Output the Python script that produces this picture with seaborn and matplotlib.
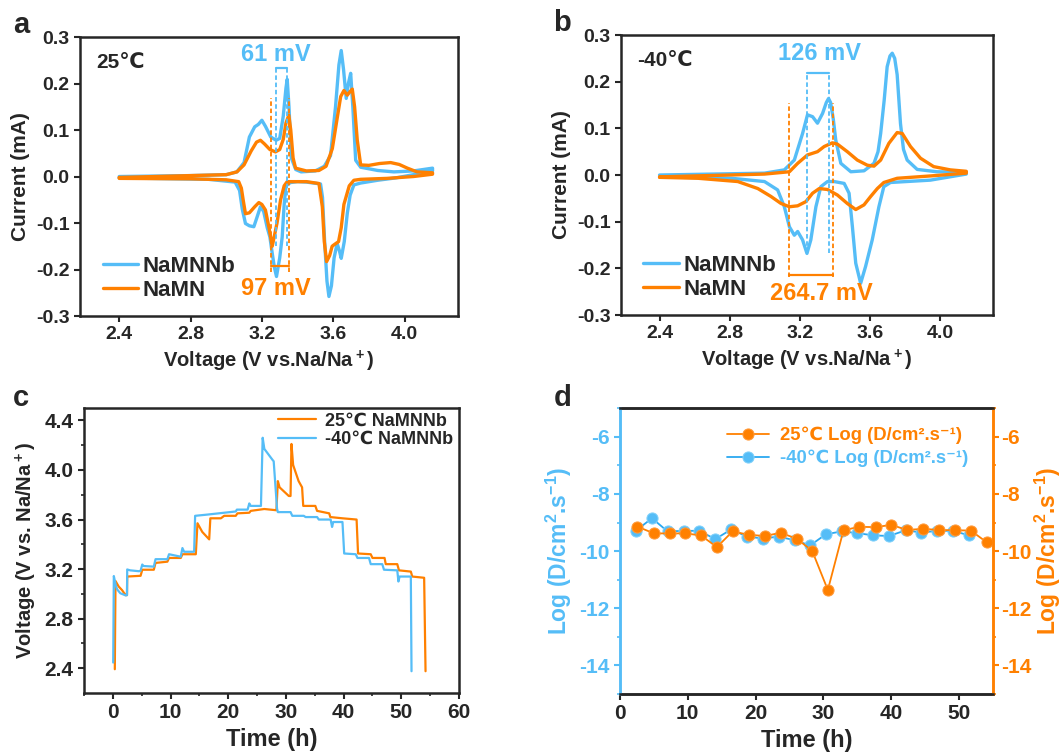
import numpy as np
import pandas as pd
import seaborn as sns
import matplotlib.pyplot as plt

BLUE = '#55BDF7'
ORANGE = '#FF8000'

# ---- panel a: CV at 25 C (upper = anodic sweep, lower = cathodic sweep back)
a_nb_up_v = [2.40, 2.80, 3.00, 3.06, 3.10, 3.13, 3.16, 3.18, 3.20, 3.22, 3.25, 3.28, 3.30, 3.32, 3.335, 3.342,
             3.352, 3.365, 3.39, 3.42, 3.50, 3.55, 3.585, 3.613, 3.632, 3.645, 3.658, 3.673, 3.685, 3.698, 3.71,
             3.726, 3.754, 3.85, 3.94, 4.05, 4.157]
a_nb_up_i = [0.000, 0.002, 0.004, 0.010, 0.030, 0.085, 0.107, 0.112, 0.121, 0.108, 0.085, 0.078, 0.082, 0.130,
             0.190, 0.209, 0.150, 0.040, 0.015, 0.010, 0.012, 0.022, 0.045, 0.150, 0.240, 0.271, 0.230, 0.168,
             0.200, 0.222, 0.150, 0.035, 0.020, 0.013, 0.010, 0.012, 0.018]
a_nb_dn_v = [4.157, 4.05, 3.95, 3.85, 3.754, 3.716, 3.695, 3.679, 3.662, 3.645, 3.635, 3.622, 3.605, 3.590, 3.576,
             3.565, 3.552, 3.540, 3.529, 3.45, 3.40, 3.36, 3.335, 3.325, 3.314, 3.30, 3.282, 3.27, 3.258, 3.245,
             3.23, 3.21, 3.192, 3.175, 3.155, 3.13, 3.108, 3.09, 3.075, 3.05, 2.90, 2.40]
a_nb_dn_i = [0.012, 0.004, -0.003, -0.008, -0.014, -0.018, -0.040, -0.079, -0.140, -0.176, -0.160, -0.144, -0.175,
             -0.235, -0.258, -0.225, -0.140, -0.045, -0.016, -0.012, -0.011, -0.013, -0.020, -0.060, -0.130,
             -0.175, -0.215, -0.195, -0.165, -0.130, -0.110, -0.075, -0.065, -0.085, -0.108, -0.106, -0.101,
             -0.070, -0.030, -0.012, -0.006, -0.003]
a_mn_up_v = [2.40, 2.80, 3.00, 3.06, 3.10, 3.14, 3.17, 3.192, 3.215, 3.245, 3.276, 3.30, 3.32, 3.335, 3.351, 3.362,
             3.375, 3.389, 3.45, 3.52, 3.56, 3.595, 3.62, 3.642, 3.66, 3.679, 3.695, 3.707, 3.72, 3.735, 3.754,
             3.80, 3.86, 3.922, 3.97, 4.016, 4.07, 4.157]
a_mn_up_i = [-0.002, 0.002, 0.004, 0.010, 0.025, 0.055, 0.074, 0.078, 0.070, 0.058, 0.053, 0.058, 0.080, 0.115,
             0.132, 0.100, 0.040, 0.018, 0.012, 0.013, 0.022, 0.060, 0.120, 0.172, 0.185, 0.175, 0.183, 0.188,
             0.150, 0.078, 0.025, 0.024, 0.028, 0.030, 0.026, 0.018, 0.010, 0.008]
a_mn_dn_v = [4.157, 4.05, 3.90, 3.754, 3.716, 3.69, 3.66, 3.645, 3.63, 3.604, 3.594, 3.580, 3.563, 3.550, 3.539,
             3.52, 3.45, 3.342, 3.325, 3.305, 3.285, 3.258, 3.24, 3.22, 3.20, 3.183, 3.16, 3.13, 3.108, 3.095,
             3.085, 3.07, 3.00, 2.80, 2.40]
a_mn_dn_i = [0.005, 0.000, -0.004, -0.006, -0.008, -0.020, -0.060, -0.110, -0.140, -0.147, -0.150, -0.170, -0.183,
             -0.140, -0.065, -0.015, -0.011, -0.011, -0.020, -0.050, -0.100, -0.150, -0.110, -0.072, -0.060,
             -0.056, -0.065, -0.078, -0.080, -0.050, -0.025, -0.011, -0.007, -0.005, -0.004]

# ---- panel b: CV at -40 C
b_nb_up_v = [2.40, 2.998, 3.111, 3.168, 3.215, 3.243, 3.272, 3.30, 3.329, 3.350, 3.363, 3.375, 3.390, 3.404,
             3.433, 3.49, 3.565, 3.622, 3.645, 3.66, 3.68, 3.697, 3.713, 3.726, 3.740, 3.754, 3.773, 3.79, 3.811,
             3.868, 3.98, 4.148]
b_nb_up_i = [0.000, 0.004, 0.011, 0.032, 0.089, 0.129, 0.125, 0.111, 0.132, 0.155, 0.164, 0.155, 0.120, 0.075,
             0.025, 0.007, 0.009, 0.025, 0.050, 0.089, 0.160, 0.232, 0.255, 0.261, 0.250, 0.215, 0.110, 0.055,
             0.032, 0.012, 0.007, 0.006]
b_nb_dn_v = [4.148, 3.943, 3.716, 3.678, 3.65, 3.612, 3.574, 3.546, 3.518, 3.499, 3.48, 3.452, 3.395, 3.357, 3.319,
             3.291, 3.262, 3.24, 3.215, 3.187, 3.168, 3.14, 3.111, 3.073, 2.998, 2.81, 2.40]
b_nb_dn_i = [0.002, -0.011, -0.016, -0.025, -0.068, -0.139, -0.196, -0.232, -0.189, -0.111, -0.039, -0.018, -0.014,
             -0.014, -0.025, -0.068, -0.139, -0.168, -0.139, -0.121, -0.129, -0.111, -0.068, -0.032, -0.014,
             -0.007, -0.004]
b_mn_up_v = [2.40, 2.998, 3.14, 3.187, 3.243, 3.30, 3.338, 3.385, 3.414, 3.47, 3.527, 3.584, 3.622, 3.66, 3.707,
             3.754, 3.783, 3.83, 3.887, 3.962, 4.057, 4.148]
b_mn_up_i = [-0.004, 0.002, 0.007, 0.025, 0.043, 0.050, 0.061, 0.069, 0.066, 0.050, 0.032, 0.021, 0.019, 0.032,
             0.068, 0.091, 0.089, 0.061, 0.036, 0.018, 0.011, 0.008]
b_mn_dn_v = [4.148, 3.943, 3.754, 3.678, 3.641, 3.603, 3.565, 3.518, 3.47, 3.414, 3.357, 3.31, 3.272, 3.234, 3.187,
             3.14, 3.092, 3.035, 2.96, 2.846, 2.619, 2.40]
b_mn_dn_i = [0.004, -0.002, -0.007, -0.016, -0.029, -0.046, -0.064, -0.074, -0.061, -0.043, -0.031, -0.029, -0.039,
             -0.057, -0.066, -0.068, -0.061, -0.046, -0.029, -0.014, -0.007, -0.005]

# ---- panel c: GITT voltage profiles
c_rt_t = [0.34, 0.46, 1.0, 1.6, 2.2, 2.45, 2.49, 4.81, 5.1, 7.1, 7.4, 9.45, 9.74, 11.77, 12.06, 14.38, 14.67, 15.5,
          16.7, 16.9, 18.73, 19.3, 21.3, 21.6, 23.65, 23.9, 26.26, 28.35, 28.6, 28.9, 30.5, 30.8, 30.96, 31.25,
          32.2, 32.8, 33.0, 35.1, 35.4, 37.5, 37.7, 39.8, 42.25, 42.5, 44.7, 45.0, 47.1, 47.3, 49.3, 49.6, 51.65,
          51.9, 53.96, 54.2]
c_rt_v = [2.392, 3.104, 3.06, 3.03, 2.99, 2.99, 3.14, 3.146, 3.195, 3.195, 3.25, 3.26, 3.29, 3.29, 3.32, 3.32, 3.57,
          3.50, 3.44, 3.61, 3.61, 3.63, 3.63, 3.65, 3.655, 3.67, 3.685, 3.675, 3.91, 3.86, 3.79, 3.79, 4.21, 4.04,
          3.91, 3.86, 3.71, 3.71, 3.67, 3.65, 3.62, 3.61, 3.60, 3.326, 3.32, 3.29, 3.29, 3.24, 3.24, 3.19, 3.18,
          3.14, 3.13, 2.376]
c_lt_t = [0.06, 0.17, 0.5, 0.75, 1.3, 2.2, 2.45, 2.49, 3.0, 4.52, 4.8, 5.1, 5.3, 7.1, 7.4, 9.45, 9.74, 11.77, 12.06,
          12.35, 14.09, 14.26, 16.4, 18.73, 21.3, 21.5, 23.36, 23.65, 23.9, 25.67, 25.97, 26.26, 27.7, 27.88,
          28.46, 28.6, 30.8, 31.1, 33.1, 33.4, 35.4, 35.7, 37.75, 38.0, 38.2, 39.8, 40.1, 42.1, 42.4, 44.4, 44.7,
          46.7, 47.0, 49.3, 49.5, 49.7, 51.65, 51.77]
c_lt_v = [2.446, 3.144, 3.07, 3.036, 3.005, 2.988, 2.990, 3.197, 3.19, 3.183, 3.186, 3.237, 3.225, 3.22, 3.28,
          3.28, 3.32, 3.30, 3.37, 3.34, 3.34, 3.63, 3.64, 3.652, 3.665, 3.68, 3.68, 3.73, 3.71, 3.71, 4.26, 4.17,
          4.08, 4.07, 3.687, 3.66, 3.66, 3.63, 3.63, 3.62, 3.62, 3.60, 3.60, 3.54, 3.58, 3.58, 3.326, 3.32, 3.29,
          3.29, 3.24, 3.24, 3.195, 3.19, 3.10, 3.14, 3.14, 2.376]

# ---- panel d: log diffusion coefficient
d_rt_t = [2.55, 5.0, 7.37, 9.63, 11.94, 14.29, 16.6, 19.0, 21.36, 23.67, 26.03, 28.34, 30.65, 32.96, 35.27, 37.72,
          40.03, 42.29, 44.7, 47.0, 49.36, 51.72, 54.08]
d_rt_logd = [-9.14, -9.38, -9.38, -9.38, -9.45, -9.86, -9.31, -9.43, -9.47, -9.36, -9.56, -9.99, -11.36, -9.27,
             -9.15, -9.16, -9.08, -9.26, -9.22, -9.26, -9.27, -9.28, -9.69]
d_lt_t = [2.36, 4.72, 7.02, 9.43, 11.69, 14.05, 16.4, 18.71, 21.12, 23.38, 25.74, 28.05, 30.35, 32.71, 35.02, 37.38,
          39.69, 42.14, 44.45, 46.76, 49.12, 51.47]
d_lt_logd = [-9.28, -8.85, -9.31, -9.29, -9.29, -9.58, -9.24, -9.49, -9.56, -9.49, -9.62, -9.80, -9.41, -9.31,
             -9.37, -9.45, -9.47, -9.27, -9.35, -9.29, -9.29, -9.45]

sns.set_style('ticks')
plt.rcParams['font.family'] = ['Liberation Sans', 'DejaVu Sans']
plt.rcParams['font.weight'] = 'bold'
plt.rcParams['axes.labelweight'] = 'bold'
plt.rcParams['axes.unicode_minus'] = False
plt.rcParams['mathtext.fontset'] = 'custom'
plt.rcParams['mathtext.rm'] = 'Liberation Sans:bold'
plt.rcParams['mathtext.bf'] = 'Liberation Sans:bold'
plt.rcParams['mathtext.default'] = 'bf'
plt.rcParams['axes.linewidth'] = 1.8
plt.rcParams['xtick.major.width'] = 1.5
plt.rcParams['ytick.major.width'] = 1.5
plt.rcParams['xtick.major.size'] = 4
plt.rcParams['ytick.major.size'] = 4
plt.rcParams['xtick.minor.size'] = 2.5
plt.rcParams['ytick.minor.size'] = 2.5
plt.rcParams['xtick.minor.width'] = 1.2
plt.rcParams['ytick.minor.width'] = 1.2

fig = plt.figure(figsize=(10.62, 7.56), dpi=100)
ax_a = fig.add_axes([0.0753, 0.582, 0.356, 0.369])
ax_b = fig.add_axes([0.5847, 0.5833, 0.3503, 0.3704])
ax_c = fig.add_axes([0.0791, 0.0833, 0.3531, 0.377])
ax_d = fig.add_axes([0.5838, 0.082, 0.3512, 0.378])


def cv_panel(ax, nb_v, nb_i, mn_v, mn_i, temp):
    sns.lineplot(x=nb_v, y=nb_i, sort=False, estimator=None, color=BLUE, lw=2.4, ax=ax, label='NaMNNb')
    sns.lineplot(x=mn_v, y=mn_i, sort=False, estimator=None, color=ORANGE, lw=2.4, ax=ax, label='NaMN')
    ax.set_xlim(2.18, 4.30)
    ax.set_ylim(-0.3, 0.3)
    ax.set_xticks([2.4, 2.8, 3.2, 3.6, 4.0])
    ax.set_yticks([-0.3, -0.2, -0.1, 0.0, 0.1, 0.2, 0.3])
    ax.set_yticklabels(['-0.3', '-0.2', '-0.1', '0.0', '0.1', '0.2', '0.3'])
    ax.tick_params(labelsize=14)
    ax.set_xlabel('Voltage (V vs.Na/Na$^+$)', fontsize=14.5)
    ax.set_ylabel('Current (mA)', fontsize=15)
    ax.text(0.044, 0.91, temp, transform=ax.transAxes, fontsize=15, fontweight='bold', va='center')
    ax.legend(loc='lower left', bbox_to_anchor=(0.06, 0.055), frameon=False, fontsize=16, handlelength=1.6,
              handletextpad=0.2, labelspacing=0.12, borderpad=0, borderaxespad=0)


def gap_mark(ax, v_pair, top, bottom, bar, color, text, text_xy):
    for v in v_pair:
        ax.plot([v, v], [bottom, top], color=color, lw=1.3, ls=(0, (2.5, 1.5)))
    ax.plot(v_pair, [bar, bar], color=color, lw=1.6)
    ax.text(text_xy[0], text_xy[1], text, color=color, fontsize=17, fontweight='bold', ha='center', va='center')


cv_panel(ax_a, a_nb_up_v + a_nb_dn_v, a_nb_up_i + a_nb_dn_i, a_mn_up_v + a_mn_dn_v, a_mn_up_i + a_mn_dn_i, '25℃')
gap_mark(ax_a, [3.282, 3.342], 0.233, -0.15, 0.233, BLUE, '61 mV', (3.28, 0.262))
gap_mark(ax_a, [3.252, 3.353], 0.168, -0.205, -0.192, ORANGE, '97 mV', (3.28, -0.24))

cv_panel(ax_b, b_nb_up_v + b_nb_dn_v, b_nb_up_i + b_nb_dn_i, b_mn_up_v + b_mn_dn_v, b_mn_up_i + b_mn_dn_i, '-40℃')
gap_mark(ax_b, [3.24, 3.363], 0.219, -0.168, 0.219, BLUE, '126 mV', (3.31, 0.261))
gap_mark(ax_b, [3.136, 3.391], 0.154, -0.218, -0.214, ORANGE, '264.7 mV', (3.32, -0.254))

# ---- panel c
sns.lineplot(x=c_rt_t, y=c_rt_v, sort=False, estimator=None, color=ORANGE, lw=1.6, ax=ax_c, label='25℃ NaMNNb')
sns.lineplot(x=c_lt_t, y=c_lt_v, sort=False, estimator=None, color=BLUE, lw=1.6, ax=ax_c, label='-40℃ NaMNNb')
ax_c.set_xlim(-5, 60)
ax_c.set_ylim(2.2, 4.5)
ax_c.set_xticks([0, 10, 20, 30, 40, 50, 60])
ax_c.set_yticks([2.4, 2.8, 3.2, 3.6, 4.0, 4.4])
ax_c.set_xticks([-5, 5, 15, 25, 35, 45, 55], minor=True)
ax_c.set_yticks([2.6, 3.0, 3.4, 3.8, 4.2], minor=True)
ax_c.tick_params(labelsize=15)
ax_c.set_xlabel('Time (h)', fontsize=17)
ax_c.set_ylabel('Voltage (V vs. Na/Na$^+$)', fontsize=14.5)
ax_c.legend(loc='upper right', bbox_to_anchor=(0.985, 0.985), frameon=False, fontsize=13, handlelength=2.1,
            handletextpad=0.5, labelspacing=0.1, borderpad=0, borderaxespad=0)

# ---- panel d
unit = ' Log (D/cm\u00b2.s\u207b\u00b9)'
ax_d2 = ax_d.twinx()
sns.lineplot(x=d_lt_t, y=d_lt_logd, sort=False, estimator=None, color='#2BA8F0', lw=1.3, marker='o',
             markersize=8, markerfacecolor=BLUE, markeredgecolor='#7FD0FA', ax=ax_d, label='-40\u2103' + unit)
sns.lineplot(x=d_rt_t, y=d_rt_logd, sort=False, estimator=None, color=ORANGE, lw=1.3, marker='o',
             markersize=8, markerfacecolor=ORANGE, markeredgecolor='#FF9A3A', ax=ax_d2, label='25\u2103' + unit)
for ax in (ax_d, ax_d2):
    ax.set_ylim(-15, -5)
    ax.set_yticks([-14, -12, -10, -8, -6])
    ax.set_yticks([-15, -13, -11, -9, -7, -5], minor=True)
    ax.tick_params(labelsize=15)
ax_d.set_xlim(0, 55)
ax_d.set_xticks([0, 10, 20, 30, 40, 50])
ax_d.set_xlabel('Time (h)', fontsize=17)
ax_d.set_ylabel('Log (D/cm$^{2}$.s$^{-1}$)', fontsize=16.5, color=BLUE)
ax_d2.set_ylabel('Log (D/cm$^{2}$.s$^{-1}$)', fontsize=16.5, color=ORANGE, rotation=90, labelpad=1)
ax_d.tick_params(axis='y', colors=BLUE, which='both')
ax_d2.tick_params(axis='y', colors=ORANGE, which='both', pad=2)
ax_d.spines['left'].set_color(BLUE)
ax_d2.spines['left'].set_color(BLUE)
ax_d2.spines['right'].set_color(ORANGE)
ax_d.spines['right'].set_color(ORANGE)
h1, l1 = ax_d.get_legend_handles_labels()
h2, l2 = ax_d2.get_legend_handles_labels()
if ax_d.get_legend() is not None:
    ax_d.get_legend().remove()
leg = ax_d2.legend(h2 + h1, l2 + l1, loc='upper right', bbox_to_anchor=(0.935, 0.935), frameon=False,
                   fontsize=13.3, handlelength=2.3, handletextpad=0.6, labelspacing=0.3, borderpad=0,
                   borderaxespad=0)
for txt, col in zip(leg.get_texts(), [ORANGE, BLUE]):
    txt.set_color(col)

for ax in (ax_a, ax_b, ax_c, ax_d, ax_d2):
    ax.tick_params(direction='out', which='both')

for x, y, s in [(0.012, 0.967, 'a'), (0.521, 0.969, 'b'), (0.012, 0.473, 'c'), (0.521, 0.473, 'd')]:
    fig.text(x, y, s, fontsize=21, fontweight='bold', va='center')

fig.savefig('out.png', dpi=100)
